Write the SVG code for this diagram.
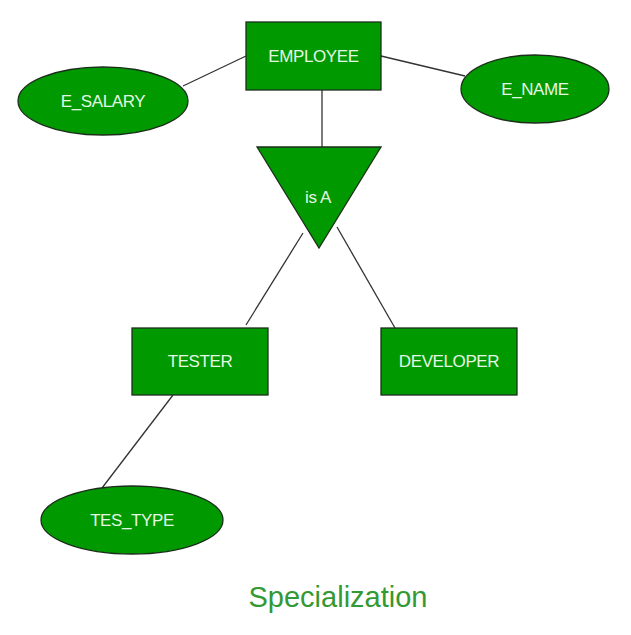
<svg xmlns="http://www.w3.org/2000/svg" width="631" height="635" viewBox="0 0 631 635">
<style>
.shape{fill:#009900;stroke:#1b2e1b;stroke-width:1.3}
.lbl{font-family:"Liberation Sans",Arial,sans-serif;font-size:17px;fill:#e4f7e4;text-anchor:middle;dominant-baseline:central;letter-spacing:-0.4px}
.conn line{stroke:#333;stroke-width:1.3}
.title{font-family:"Liberation Sans",Arial,sans-serif;font-size:29px;fill:#339933;text-anchor:middle}
</style>
<rect width="631" height="635" fill="#ffffff"/>
<g id="connectors" class="conn">
<line x1="183" y1="86" x2="246" y2="56"/>
<line x1="381" y1="56" x2="465" y2="76"/>
<line x1="322" y1="90" x2="322" y2="147"/>
<line x1="303" y1="233" x2="246" y2="325"/>
<line x1="337" y1="227" x2="395" y2="328"/>
<line x1="173" y1="395" x2="102" y2="488"/>
</g>
<g id="employee">
<rect class="shape" x="246" y="22" width="135" height="68"/>
<text class="lbl" x="313.5" y="56">EMPLOYEE</text>
</g>
<g id="e_salary">
<ellipse class="shape" cx="103" cy="101" rx="85" ry="34"/>
<text class="lbl" x="103" y="101">E_SALARY</text>
</g>
<g id="e_name">
<ellipse class="shape" cx="535" cy="89" rx="74" ry="34"/>
<text class="lbl" x="535" y="89">E_NAME</text>
</g>
<g id="isa">
<polygon class="shape" points="257,147 381,147 319,248"/>
<text class="lbl" x="318" y="197">is A</text>
</g>
<g id="tester">
<rect class="shape" x="132" y="328" width="136" height="67"/>
<text class="lbl" x="200" y="361">TESTER</text>
</g>
<g id="developer">
<rect class="shape" x="381" y="328" width="136" height="67"/>
<text class="lbl" x="449" y="361">DEVELOPER</text>
</g>
<g id="tes_type">
<ellipse class="shape" cx="132" cy="520" rx="91" ry="34"/>
<text class="lbl" x="132" y="520">TES_TYPE</text>
</g>
<text class="title" x="338" y="607">Specialization</text>
</svg>
